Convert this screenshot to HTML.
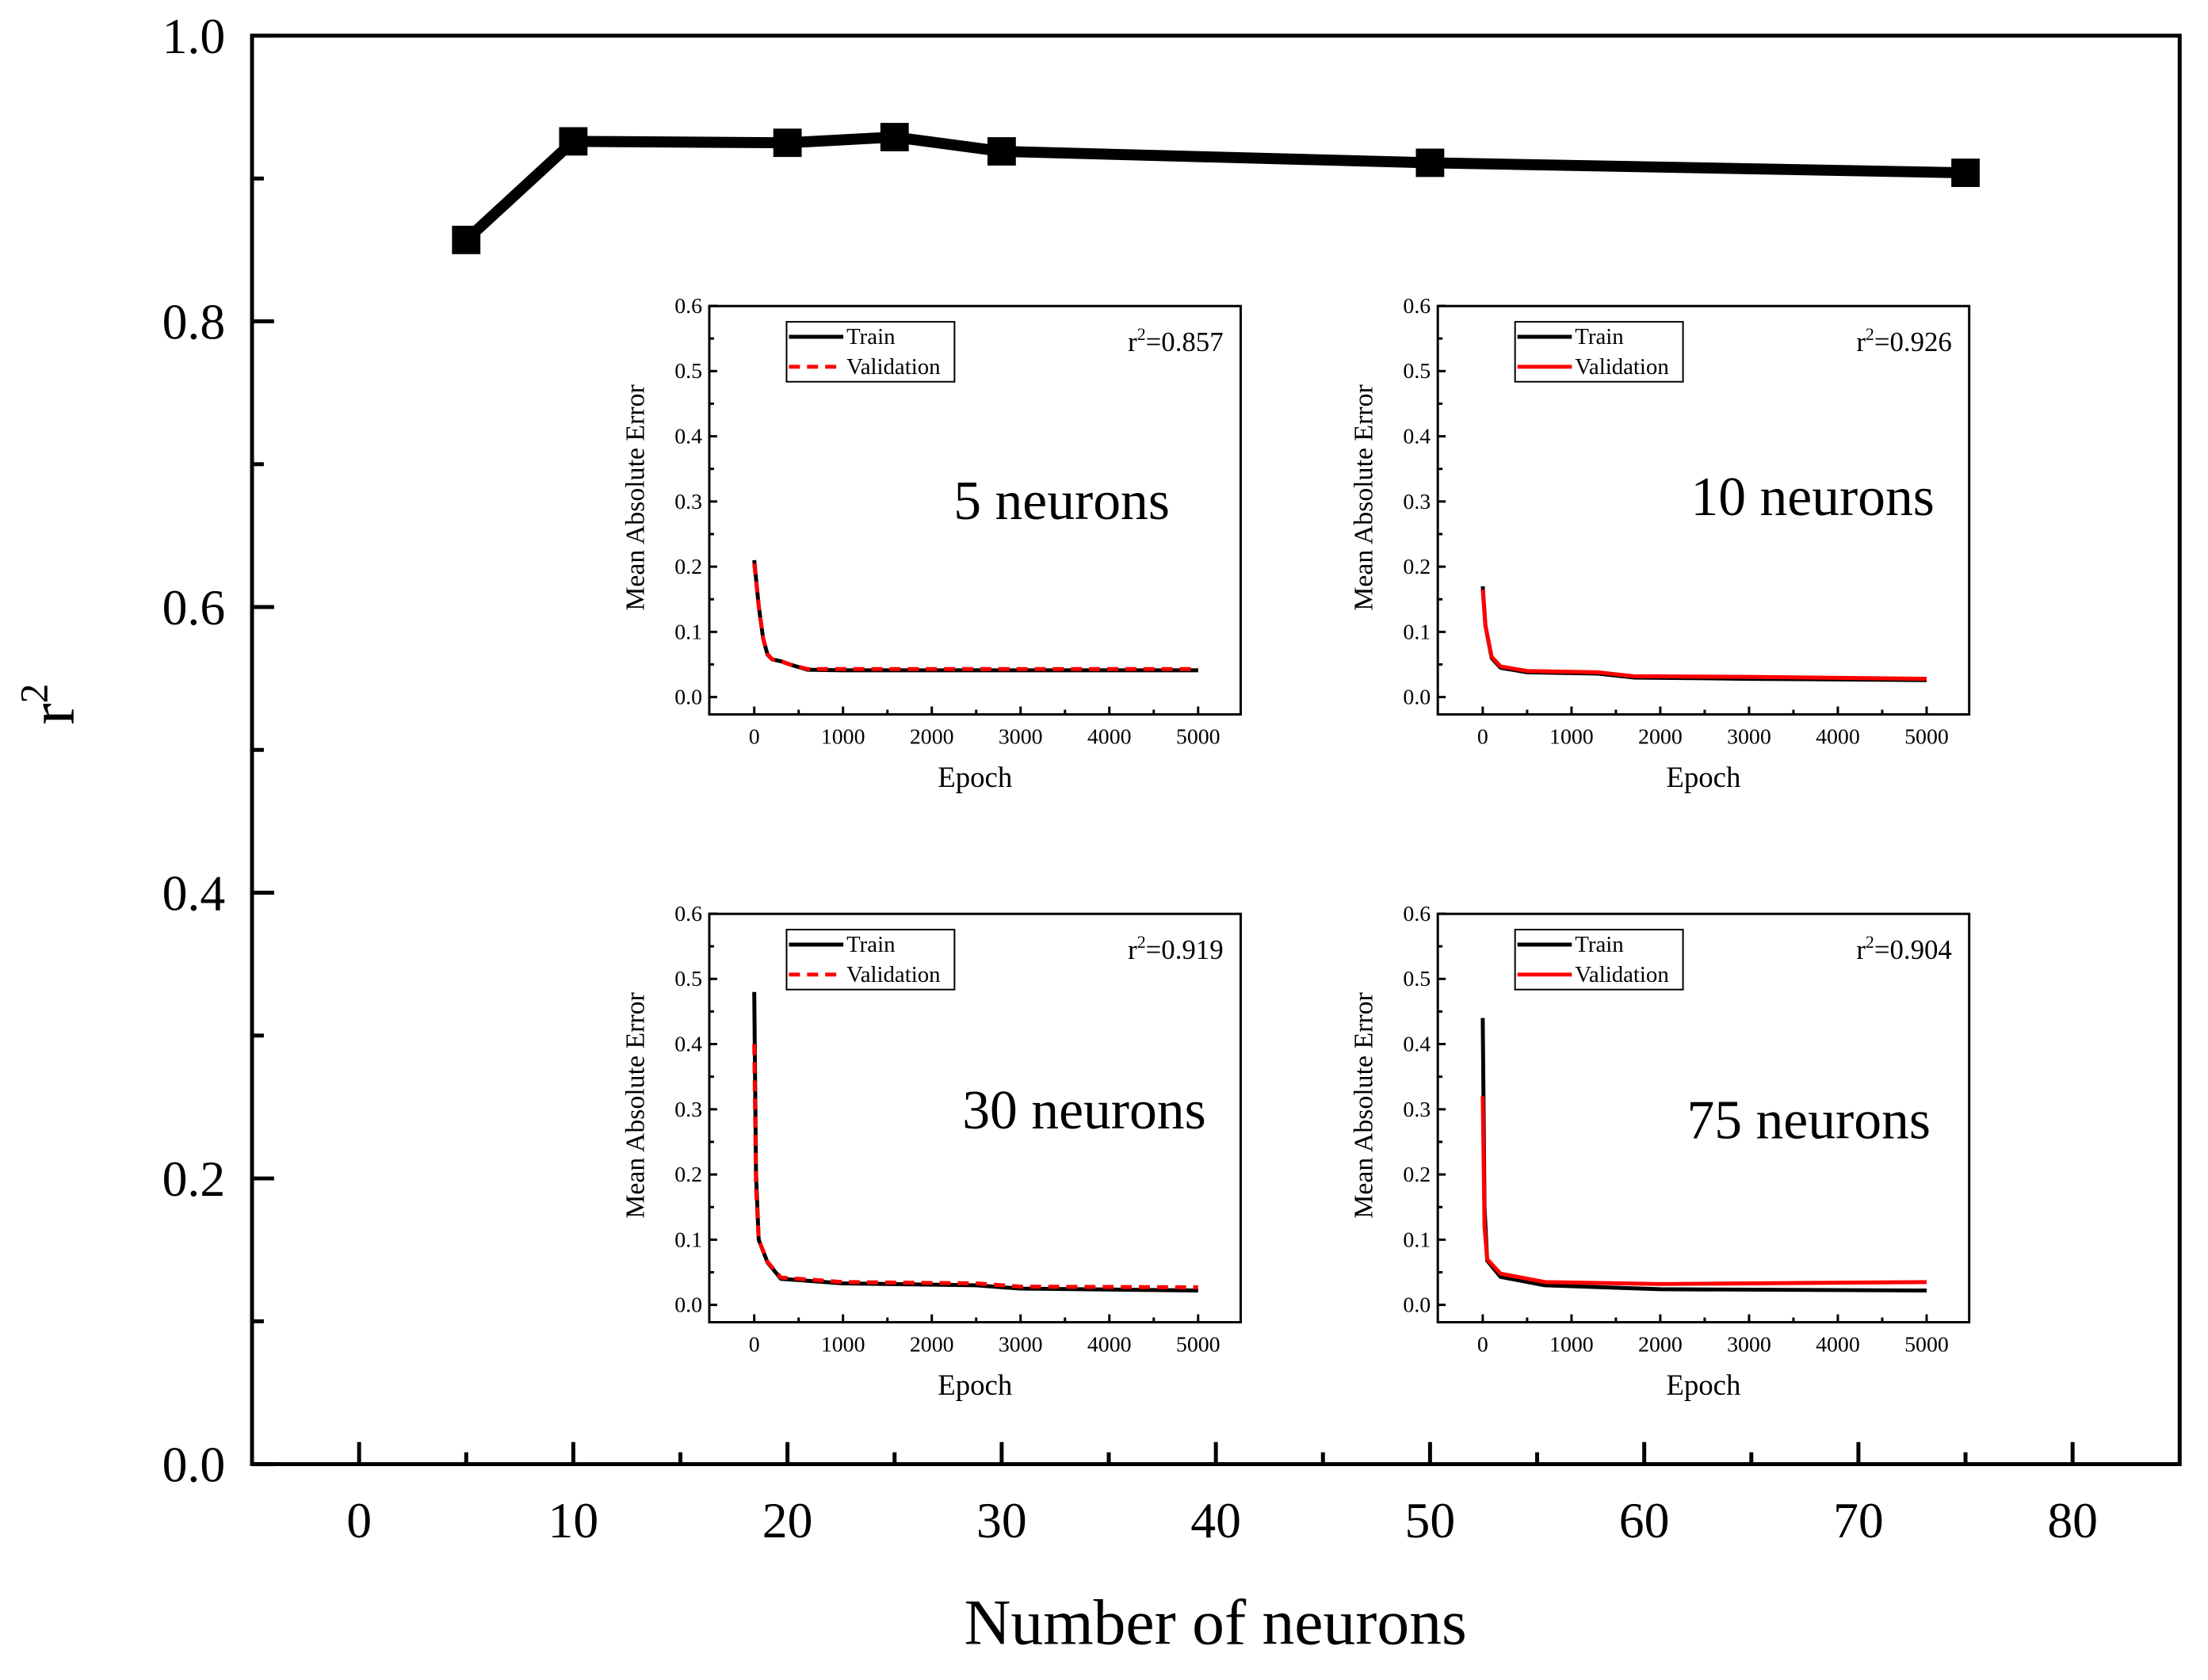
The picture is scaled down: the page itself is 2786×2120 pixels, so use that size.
<!DOCTYPE html>
<html><head><meta charset="utf-8"><style>
html,body{margin:0;padding:0;background:#fff;}
svg{display:block;font-family:"Liberation Serif",serif;}
</style></head><body>
<svg id="chart" width="2786" height="2120" viewBox="0 0 2786 2120" xmlns="http://www.w3.org/2000/svg"></svg>
<script>
// main chart data
const neurons = [5, 10, 20, 25, 30, 50, 75];
const r2Values = [0.857, 0.926, 0.925, 0.929, 0.919, 0.911, 0.904];
const xTicks = [0, 10, 20, 30, 40, 50, 60, 70, 80];
const yTicks = [0.0, 0.2, 0.4, 0.6, 0.8, 1.0];
// inset data
const insetTitles = ["5 neurons", "10 neurons", "30 neurons", "75 neurons"];
const insetR2 = ["0.857", "0.926", "0.919", "0.904"];
const trainEpochs5 = [0, 50, 100, 150, 200, 300, 400, 600, 1000, 5000];
const trainMae5 = [0.21, 0.14, 0.09, 0.065, 0.058, 0.055, 0.05, 0.042, 0.041, 0.041];
const valEpochs5 = [0, 50, 100, 150, 200, 300, 400, 600, 1000, 5000];
const valMae5 = [0.205, 0.14, 0.09, 0.066, 0.058, 0.055, 0.05, 0.043, 0.043, 0.043];
const trainEpochs10 = [0, 30, 100, 200, 500, 1300, 1700, 3000, 5000];
const trainMae10 = [0.17, 0.11, 0.06, 0.045, 0.038, 0.036, 0.03, 0.028, 0.026];
const valEpochs10 = [0, 30, 100, 200, 500, 1300, 1700, 3000, 5000];
const valMae10 = [0.165, 0.11, 0.062, 0.047, 0.04, 0.038, 0.032, 0.031, 0.028];
const trainEpochs30 = [0, 20, 50, 150, 300, 1000, 2500, 3000, 5000];
const trainMae30 = [0.48, 0.2, 0.1, 0.065, 0.04, 0.033, 0.03, 0.025, 0.022];
const valEpochs30 = [0, 20, 50, 150, 300, 1000, 2500, 3000, 5000];
const valMae30 = [0.4, 0.18, 0.1, 0.066, 0.042, 0.035, 0.033, 0.028, 0.027];
const trainEpochs75 = [0, 20, 50, 200, 700, 2000, 5000];
const trainMae75 = [0.44, 0.15, 0.068, 0.043, 0.03, 0.024, 0.022];
const valEpochs75 = [0, 20, 50, 200, 700, 2000, 5000];
const valMae75 = [0.32, 0.12, 0.07, 0.048, 0.035, 0.032, 0.035];

const NS = "http://www.w3.org/2000/svg";
const svgEl = document.getElementById("chart");
const svg = document.createElementNS(NS, "g");
svg.setAttribute("transform", "translate(318,45) scale(0.9948) translate(-318,-45)");
svgEl.appendChild(svg);
function mk(tag, attrs, parent, text) {
  const e = document.createElementNS(NS, tag);
  for (const k in attrs) e.setAttribute(k, attrs[k]);
  if (text !== undefined) e.textContent = text;
  (parent || svg).appendChild(e);
  return e;
}

// main axes
const L = 318, R = 2763, T = 45, B = 1857;
const xMin = -5, xMax = 85;
const sx = v => L + (v - xMin) / (xMax - xMin) * (R - L);
const sy = v => B - v * (B - T);

const frame = mk("rect", {x: L, y: T, width: R - L, height: B - T, fill: "none", stroke: "#000", "stroke-width": 5});



for (let v = 0; v <= 80; v += 5) {
  const major = v % 10 === 0;
  const t = mk("line", {x1: sx(v), x2: sx(v), y1: B, y2: B - (major ? 28 : 15), stroke: "#000", "stroke-width": 5});
  
  
}
xTicks.forEach(v => {
  const t = mk("text", {x: sx(v), y: 1950, "font-size": 64, "text-anchor": "middle"}, svg, String(v));
  
  
});
for (let i = 0; i <= 10; i++) {
  const v = i / 10, major = i % 2 === 0;
  const t = mk("line", {x1: L, x2: L + (major ? 28 : 15), y1: sy(v), y2: sy(v), stroke: "#000", "stroke-width": 5});
  
  
}
yTicks.forEach(v => {
  const t = mk("text", {x: 284, y: sy(v) + 22, "font-size": 64, "text-anchor": "end"}, svg, v.toFixed(1));
  
  
});
const xt = mk("text", {x: 1540, y: 2085, "font-size": 82, "text-anchor": "middle"}, svg, "Number of neurons");


const yt = mk("text", {x: 0, y: 0, "font-size": 82, "text-anchor": "middle", transform: "translate(92,893) rotate(-90)"}, svg);


mk("tspan", {}, yt, "r");
mk("tspan", {dy: -34, "font-size": 50}, yt, "2");

const pts = neurons.map((n, i) => sx(n) + "," + sy(r2Values[i])).join(" ");
const ln = mk("polyline", {points: pts, fill: "none", stroke: "#000", "stroke-width": 14, "stroke-linejoin": "round"});


neurons.forEach((n, i) => {
  const m = mk("rect", {x: sx(n) - 18, y: sy(r2Values[i]) - 18, width: 36, height: 36, fill: "#000"});
  
  
});

// insets
const insetPos = [[898, 388], [1822, 388], [898, 1159], [1822, 1159]];
const titleRight = [584, 630, 630, 625];
const titleY = [246, 241, 248, 261];
const trainE = [trainEpochs5, trainEpochs10, trainEpochs30, trainEpochs75];
const trainM = [trainMae5, trainMae10, trainMae30, trainMae75];
const valE = [valEpochs5, valEpochs10, valEpochs30, valEpochs75];
const valM = [valMae5, valMae10, valMae30, valMae75];
const dashed = [true, false, true, false];

insetPos.forEach((p, k) => {
  const g = mk("g", {transform: `translate(${p[0]},${p[1]})`});
  
  
  const W = 674, H = 518;
  const ex = e => 57 + e * 0.1126;
  const ey = v => 496 - v * 827;
  const fr = mk("rect", {x: 0, y: 0, width: W, height: H, fill: "none", stroke: "#000", "stroke-width": 3}, g);
  
  
  for (let e = 0; e <= 5000; e += 500) {
    const t = mk("line", {x1: ex(e), x2: ex(e), y1: H, y2: H - (e % 1000 === 0 ? 10 : 6), stroke: "#000", "stroke-width": 3}, g);
    
    
    if (e % 1000 === 0) {
      const tl = mk("text", {x: ex(e), y: H + 37, "font-size": 28, "text-anchor": "middle"}, g, String(e));
      
      
    }
  }
  for (let i = 0; i <= 12; i++) {
    const v = i * 0.05;
    const t = mk("line", {x1: 0, x2: i % 2 === 0 ? 10 : 6, y1: ey(v), y2: ey(v), stroke: "#000", "stroke-width": 3}, g);
    
    
    if (i % 2 === 0) {
      const tl = mk("text", {x: -9, y: ey(v) + 9, "font-size": 28, "text-anchor": "end"}, g, v.toFixed(1));
      
      
    }
  }
  const xl = mk("text", {x: 337, y: 610, "font-size": 37, "text-anchor": "middle"}, g, "Epoch");
  
  
  const yl = mk("text", {x: 0, y: 0, "font-size": 34, "text-anchor": "middle", transform: "translate(-83,243) rotate(-90)"}, g, "Mean Absolute Error");
  
  

  const tp = trainE[k].map((e, i) => ex(e) + "," + ey(trainM[k][i])).join(" ");
  const vp = valE[k].map((e, i) => ex(e) + "," + ey(valM[k][i])).join(" ");
  const tl = mk("polyline", {points: tp, fill: "none", stroke: "#000", "stroke-width": 5, "stroke-linejoin": "round"}, g);
  
  
  const va = {points: vp, fill: "none", stroke: "#f00", "stroke-width": 5, "stroke-linejoin": "round"};
  if (dashed[k]) va["stroke-dasharray"] = "14,9";
  const vl = mk("polyline", va, g);
  
  

  const lg = mk("g", {}, g);
  
  
  mk("rect", {x: 98, y: 20, width: 213, height: 76, fill: "#fff", stroke: "#000", "stroke-width": 2}, lg);
  const l1 = mk("line", {x1: 101, x2: 170, y1: 39, y2: 39, stroke: "#000", "stroke-width": 5}, lg);
  
  
  mk("text", {x: 174, y: 48, "font-size": 29}, lg, "Train");
  const l2a = {x1: 101, x2: 170, y1: 77, y2: 77, stroke: "#f00", "stroke-width": 5};
  if (dashed[k]) l2a["stroke-dasharray"] = "14,9";
  const l2 = mk("line", l2a, lg);
  
  
  mk("text", {x: 174, y: 86, "font-size": 29}, lg, "Validation");

  const rt = mk("text", {x: 652, y: 57, "font-size": 35, "text-anchor": "end"}, g);
  
  
  mk("tspan", {}, rt, "r");
  mk("tspan", {dy: -14, "font-size": 22}, rt, "2");
  mk("tspan", {dy: 14}, rt, "=" + insetR2[k]);

  const tt = mk("text", {x: titleRight[k], y: titleY[k] + 24, "font-size": 70, "text-anchor": "end"}, g, insetTitles[k]);
  
  
});
</script>
</body></html>
